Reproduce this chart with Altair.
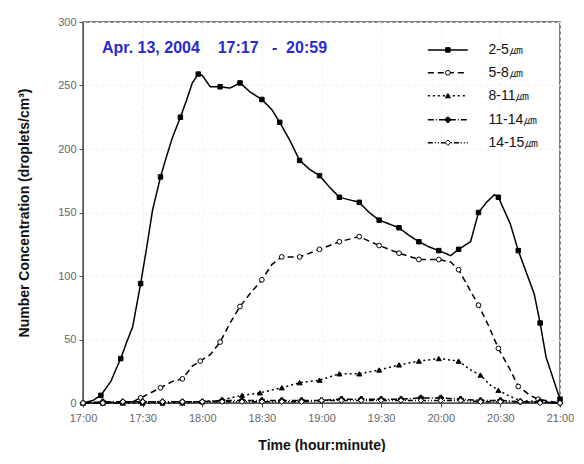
import altair as alt
import pandas as pd

SERIES = ["2-5㎛", "5-8㎛", "8-11㎛", "11-14㎛", "14-15㎛"]

# minutes after 17:00
T_25 = [0, 5, 9, 14, 17, 19, 22, 25, 29, 32, 35, 39, 42, 45, 49, 52, 55, 58, 60, 64,
        69, 74, 79, 84, 90, 95, 99, 104, 109, 114, 119, 124, 129, 134, 139, 144, 149, 154, 159, 164,
        169, 174, 179, 185, 189, 195, 199, 203, 207, 209, 215, 219, 227, 230, 233, 240]
V_25 = [0, 2, 6, 17, 28, 35, 48, 60, 94, 122, 152, 178, 194, 209, 225, 238, 252, 259, 258, 249,
        249, 248, 252, 245, 239, 231, 221, 207, 191, 184, 179, 170, 162, 160, 158, 150, 144, 141, 138, 132,
        127, 123, 120, 116, 121, 127, 150, 158, 164, 162, 141, 120, 86, 63, 36, 3]
M_25 = [9, 19, 29, 39, 49, 58, 69, 79, 90, 99, 109, 119, 129, 139, 149, 159, 169, 179, 189, 199,
        209, 219, 230, 240]

T_58 = [0, 10, 20, 25, 29, 34, 39, 45, 50, 55, 59, 64, 69, 74, 79, 84, 90, 95, 100, 109,
        119, 129, 139, 149, 159, 169, 179, 185, 189, 199, 204, 209, 215, 219, 225, 229, 240]
V_58 = [0, 0, 0, 1, 4, 8, 12, 17, 19, 29, 33, 38, 48, 63, 76, 86, 97, 109, 115, 115,
        121, 127, 131, 124, 118, 113, 113, 111, 105, 77, 61, 43, 26, 13, 6, 3, 0]
M_58 = [29, 39, 50, 59, 69, 79, 90, 100, 109, 119, 129, 139, 149, 159, 169, 179, 189, 199, 209, 219, 229]

T_811 = [0, 10, 20, 30, 40, 50, 60, 70, 74, 80, 89, 100, 109, 119, 129, 139, 149, 159, 169, 179,
         189, 195, 200, 205, 209, 215, 220, 230, 240]
V_811 = [0, 0, 0, 0, 0, 0, 1, 2, 4, 6, 8, 12, 16, 18, 23, 23, 26, 30, 33, 35,
         33, 26, 22, 14, 10, 5, 2, 1, 0]
M_811 = [0, 10, 20, 30, 40, 50, 60, 70, 80, 89, 100, 109, 119, 129, 139, 149, 159, 169, 179, 189,
         200, 209, 220, 230]

T_SMALL = [0, 10, 20, 30, 40, 50, 60, 70, 80, 90, 100, 110, 120, 130, 140, 150, 160, 170, 180, 190,
           200, 210, 220, 230, 240]
V_1114 = [0, 1, 1, 1, 1, 1, 1, 2, 2, 2, 2, 2, 2, 3, 3, 3, 3, 4, 4, 3, 2, 2, 1, 1, 0]
V_1415 = [0, 0, 1, 1, 1, 1, 1, 1, 1, 1, 1, 1, 2, 2, 2, 2, 2, 2, 2, 2, 1, 1, 1, 0, 0]

X_TICKS = [0, 30, 60, 90, 120, 150, 180, 210, 240]
Y_TICKS = [0, 50, 100, 150, 200, 250, 300]

NB = "\u00a0"
TITLE_TEXT = "Apr." + NB + "13," + NB + "2004" + NB * 4 + "17:17" + NB * 3 + "-" + NB * 2 + "20:59"


def frame(name, ts, vs, marks):
    return pd.DataFrame({"series": name, "t": ts, "v": vs, "m": [t in marks for t in ts]})


df = pd.concat([
    frame(SERIES[0], T_25, V_25, M_25),
    frame(SERIES[1], T_58, V_58, M_58),
    frame(SERIES[2], T_811, V_811, M_811),
    frame(SERIES[3], T_SMALL, V_1114, T_SMALL),
    frame(SERIES[4], T_SMALL, V_1415, T_SMALL),
], ignore_index=True)

# legend layout (placed in data coordinates, top-right inside plot)
leg = pd.DataFrame({
    "series": SERIES,
    "lv": [278, 260, 242, 223, 205],
})
leg["t0"] = 173.5
leg["t1"] = 193.6
leg["tm"] = 183.6
leg["tt"] = 204.0

FONT = "Liberation Sans"
dash_scale = alt.Scale(domain=SERIES, range=[[1, 0], [6, 4], [2, 3], [6, 2, 1, 2], [5, 2, 1, 2, 1, 2]])
shape_scale = alt.Scale(domain=SERIES, range=["square", "circle", "triangle-up", "cross", "diamond"])
fill_scale = alt.Scale(domain=SERIES, range=["black", "white", "black", "black", "white"])
size_scale = alt.Scale(domain=SERIES, range=[20, 30, 24, 14, 16])

x_enc = alt.X("t:Q", scale=alt.Scale(domain=[0, 240], nice=False, zero=False),
              axis=alt.Axis(values=X_TICKS, title="Time (hour:minute)", labelFlush=False,
                            labelExpr="(floor(datum.value/60)+17) + ':' + (datum.value % 60 == 0 ? '00' : '30')"))
y_enc = alt.Y("v:Q", scale=alt.Scale(domain=[0, 300], nice=False),
              axis=alt.Axis(values=Y_TICKS, title="Number Concentration (droplets/cm³)", labelFlush=False))

base = alt.Chart(df)

lines = base.mark_line(color="black", strokeWidth=1.5).encode(
    x=x_enc, y=y_enc,
    strokeDash=alt.StrokeDash("series:N", scale=dash_scale, legend=None),
    detail="series:N",
)

pts = base.transform_filter("datum.m").mark_point(stroke="black", strokeWidth=1, opacity=1).encode(
    x="t:Q", y="v:Q",
    shape=alt.Shape("series:N", scale=shape_scale, legend=None),
    fill=alt.Fill("series:N", scale=fill_scale, legend=None),
    size=alt.Size("series:N", scale=size_scale, legend=None),
)

lbase = alt.Chart(leg)
leg_rules = lbase.mark_rule(color="black", strokeWidth=1.5).encode(
    x="t0:Q", x2="t1", y="lv:Q",
    strokeDash=alt.StrokeDash("series:N", scale=dash_scale, legend=None),
)
leg_pts = lbase.mark_point(stroke="black", strokeWidth=1, opacity=1).encode(
    x="tm:Q", y="lv:Q",
    shape=alt.Shape("series:N", scale=shape_scale, legend=None),
    fill=alt.Fill("series:N", scale=fill_scale, legend=None),
    size=alt.Size("series:N", scale=size_scale, legend=None),
)
leg_txt = lbase.mark_text(align="left", baseline="middle", font=FONT, fontSize=14, color="#111").encode(
    x="tt:Q", y="lv:Q", text="series:N",
)

title_txt = alt.Chart(pd.DataFrame({"a": [0]})).mark_text(
    align="left", baseline="middle", font=FONT, fontSize=16, fontWeight="bold", color="#2a2ad0"
).encode(x=alt.value(19), y=alt.value(26), text=alt.value(TITLE_TEXT))

chart = alt.layer(lines, pts, leg_rules, leg_pts, leg_txt, title_txt).properties(
    width=477, height=381,
    padding={"left": 9, "top": 8, "right": 0, "bottom": 0},
).configure_view(
    stroke="#555", strokeWidth=1.5,
).configure_axis(
    labelFont=FONT, labelFontSize=11, labelColor="#666",
    titleFont=FONT, titleFontSize=14, titleFontWeight="bold", titleColor="#111",
    domainColor="#555", tickColor="#555", tickSize=4,
    grid=True, gridColor="#efefef", gridDash=[3, 3],
).configure_axisY(
    titlePadding=26, labelPadding=3,
).configure_axisX(
    titlePadding=15, labelPadding=5,
)

chart.save("out.html", embed_options={"renderer": "svg", "actions": False})
